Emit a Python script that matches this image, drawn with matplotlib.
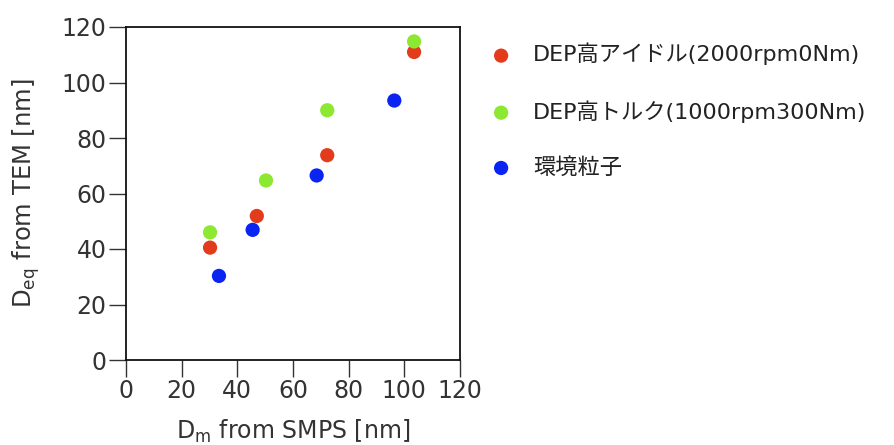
import matplotlib
matplotlib.use("Agg")
import matplotlib.pyplot as plt

plt.rcParams['font.family'] = ['DejaVu Sans', 'Noto Sans CJK JP']

labels = ["DEP高アイドル(2000rpm0Nm)", "DEP高トルク(1000rpm300Nm)", "環境粒子"]
colors = ["#e23c1c", "#8ce830", "#0a24f2"]

idle_x = [30.2, 47.0, 72.3, 103.5]
idle_y = [40.5, 51.9, 73.8, 111.0]
torque_x = [30.2, 50.3, 72.3, 103.5]
torque_y = [46.0, 64.7, 90.0, 114.8]
ambient_x = [33.4, 45.5, 68.5, 96.4]
ambient_y = [30.3, 46.9, 66.5, 93.5]

series = [(idle_x, idle_y), (torque_x, torque_y), (ambient_x, ambient_y)]

ticks = [0, 20, 40, 60, 80, 100, 120]

fig = plt.figure(figsize=(8.95, 4.45), dpi=100)
ax = fig.add_axes([126 / 895, 1 - 360 / 445, 334 / 895, 333 / 445])

for (xs, ys), c, lab in zip(series, colors, labels):
    ax.scatter(xs, ys, s=105, color=c, edgecolors='none', label=lab, zorder=3)

ax.set_xlim(0, 120)
ax.set_ylim(0, 120)
ax.set_xticks(ticks)
ax.set_yticks(ticks)
ax.tick_params(direction='out', length=12, width=1.0, color='#333333',
               labelsize=17, labelcolor='#333333', pad=2)
for sp in ax.spines.values():
    sp.set_linewidth(1.3)
    sp.set_color('#111111')

ax.set_xlabel(r"D$_\mathregular{m}$ from SMPS [nm]", fontsize=17, color='#333333', labelpad=10)
ax.set_ylabel(r"D$_\mathregular{eq}$ from TEM [nm]", fontsize=17.5, color='#333333', labelpad=14)

leg = fig.legend(loc='upper left', bbox_to_anchor=(470 / 895, 1 - 34 / 445),
                 frameon=False, fontsize=16, handletextpad=0.45,
                 labelspacing=1.55, markerscale=1.0, borderaxespad=0)
for t in leg.get_texts():
    t.set_color('#222222')

fig.savefig("out.png", dpi=100)
